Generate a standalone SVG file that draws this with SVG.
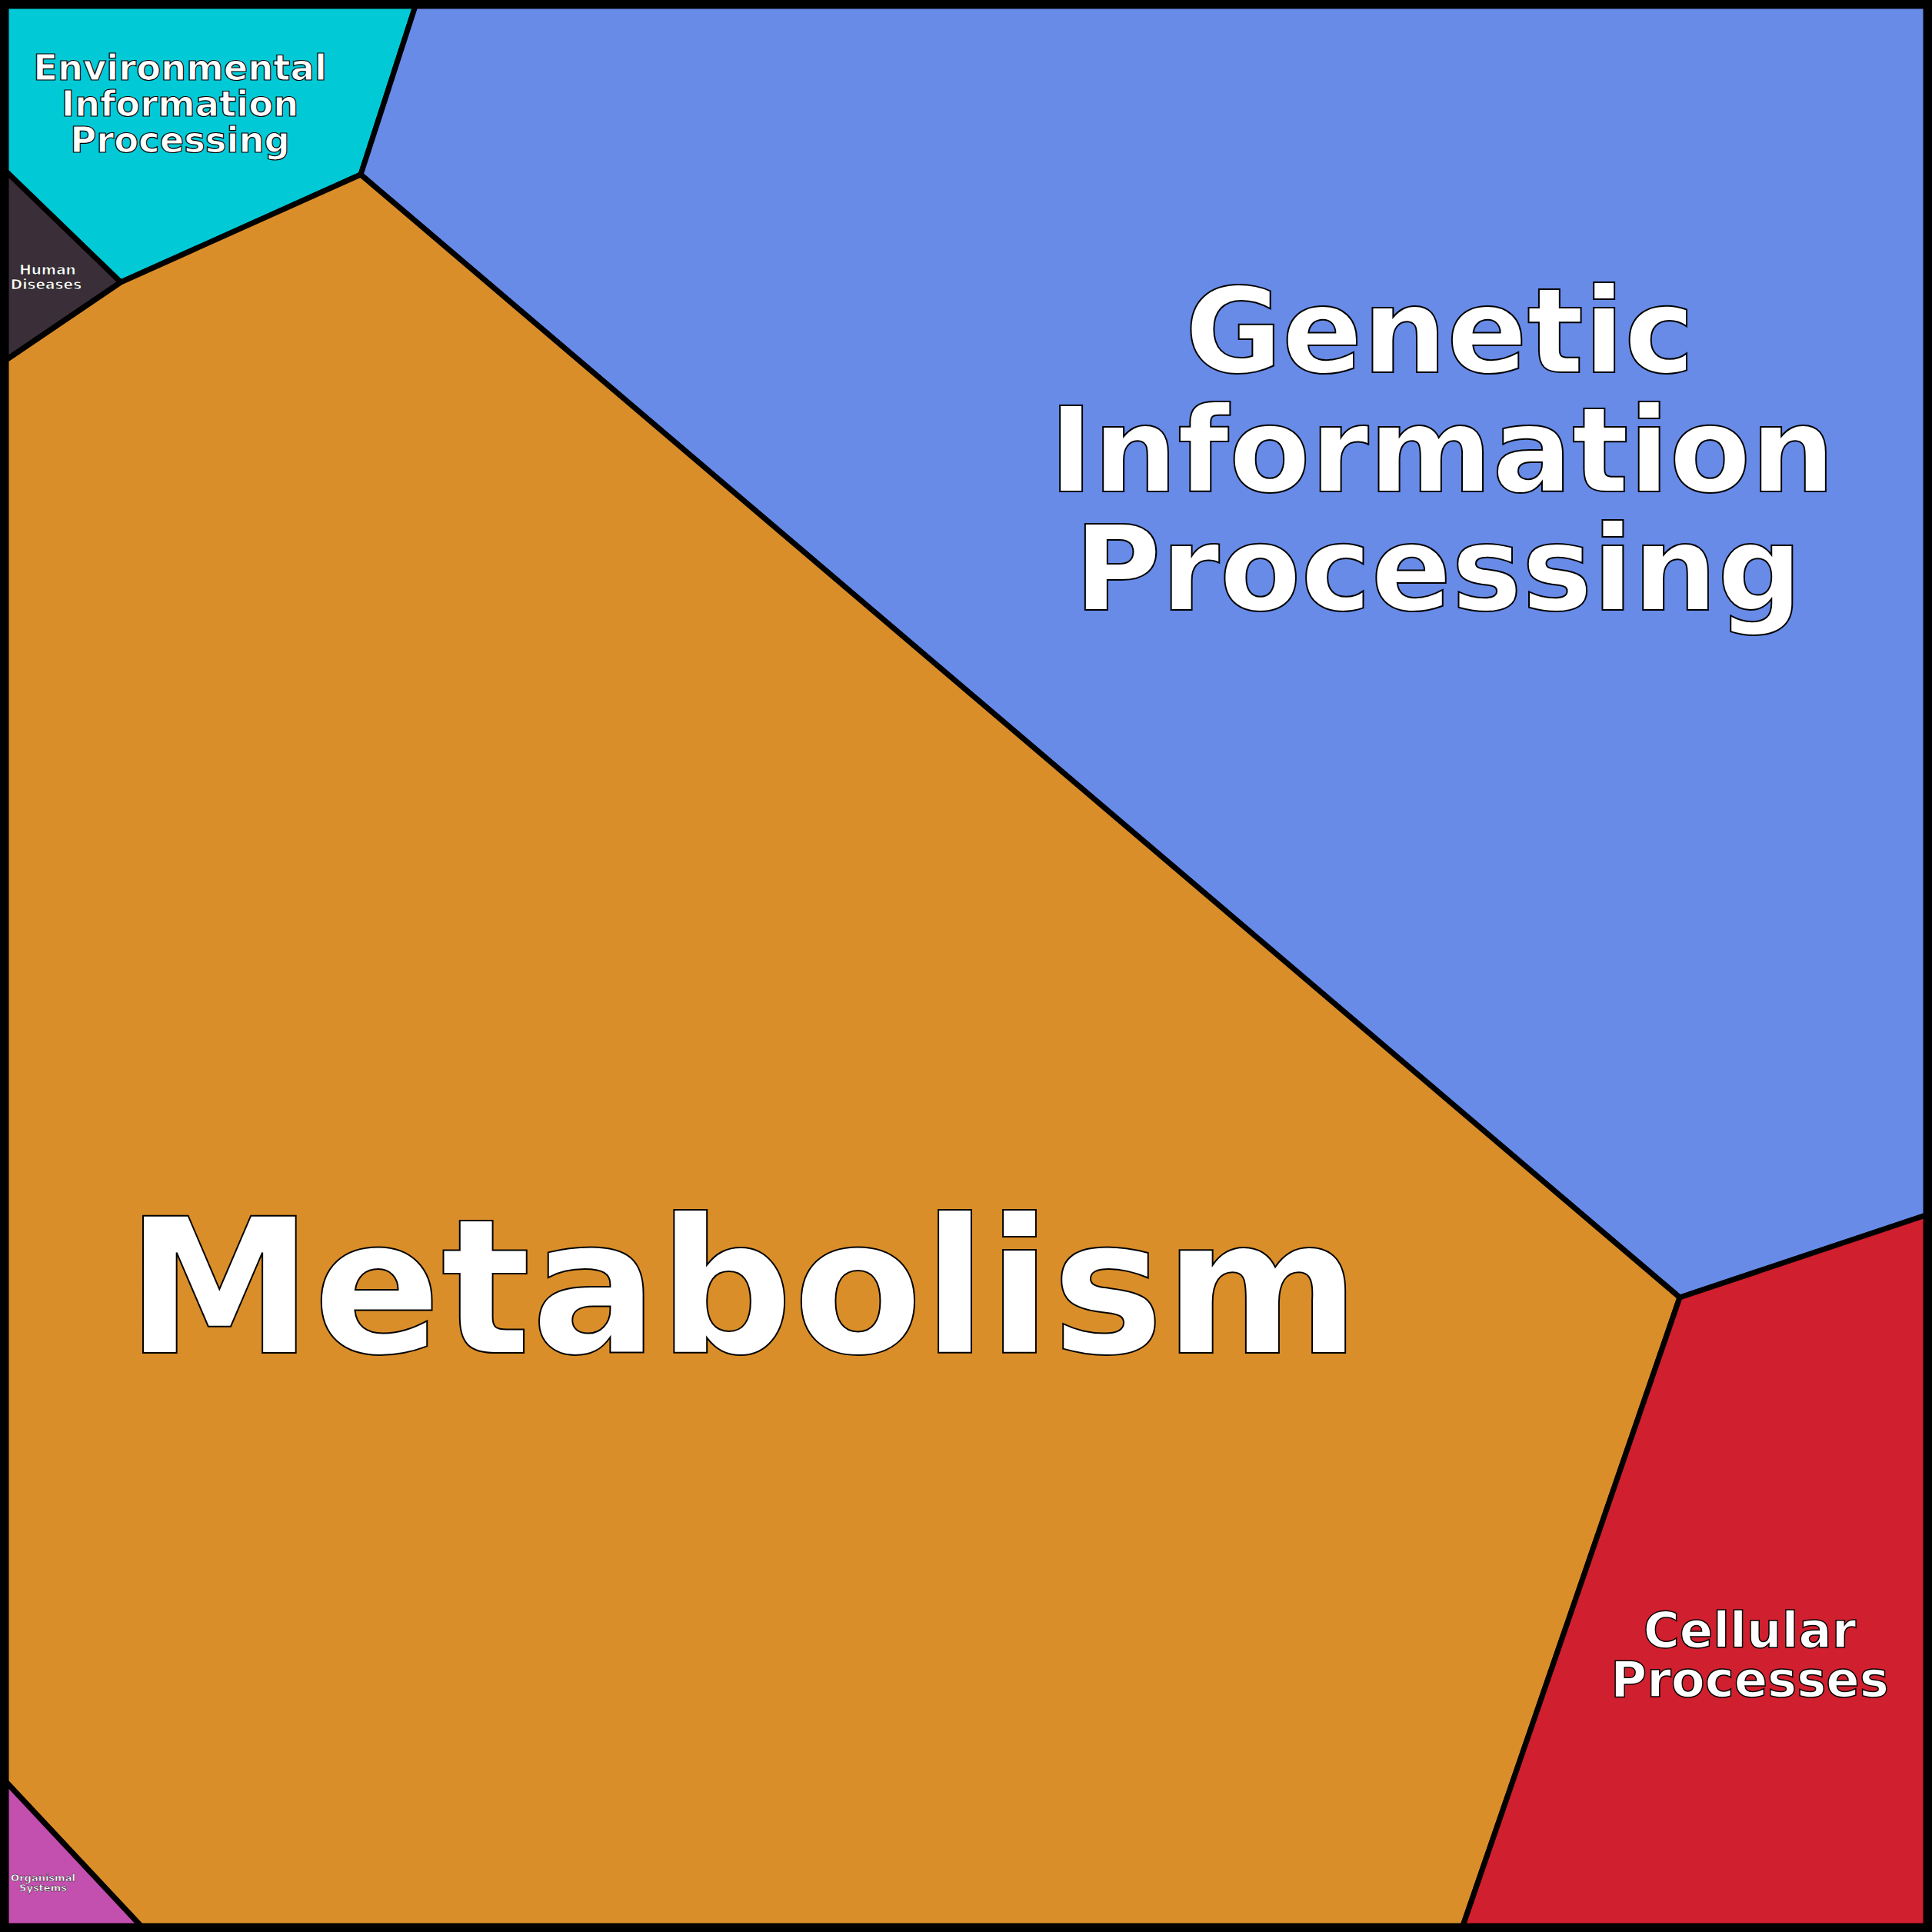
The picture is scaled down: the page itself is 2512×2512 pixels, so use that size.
<svg xmlns="http://www.w3.org/2000/svg" width="2512" height="2512" viewBox="0 0 2512 2512">
<style>
.c{stroke:#000;stroke-width:7;stroke-linejoin:round}
text{font-family:"DejaVu Sans",sans-serif;font-weight:bold;fill:#fff;stroke:#000;text-anchor:middle;paint-order:fill}
</style>
<g id="eip"><polygon class="c" fill="#02c9d6" points="8,8 540,8 469,227 157,367 8,223"/>
<text font-size="46.5" stroke-width="1.2"><tspan x="234" y="104">Environmental</tspan><tspan x="234" y="151">Information</tspan><tspan x="234" y="198">Processing</tspan></text></g>
<g id="hd"><polygon class="c" fill="#3a2e38" points="8,223 157,367 8,468"/>
<text font-size="18.5" stroke-width="0.6"><tspan x="62" y="357">Human</tspan><tspan x="60" y="376">Diseases</tspan></text></g>
<g id="gip"><polygon class="c" fill="#678be7" points="540,8 2504,8 2504,1580 2184,1687 469,227"/>
<text font-size="154" stroke-width="2"><tspan x="1872" y="484">Genetic</tspan><tspan x="1875" y="639">Information</tspan><tspan x="1870" y="793">Processing</tspan></text></g>
<g id="met"><polygon class="c" fill="#da8e29" points="8,468 157,367 469,227 2184,1687 1902,2504 183,2504 8,2317"/>
<text font-size="245" stroke-width="2"><tspan x="966" y="1759">Metabolism</tspan></text></g>
<g id="cp"><polygon class="c" fill="#d01f2e" points="2184,1687 2504,1580 2504,2504 1902,2504"/>
<text font-size="64" stroke-width="1.5"><tspan x="2275" y="2142">Cellular</tspan><tspan x="2275" y="2206">Processes</tspan></text></g>
<g id="os"><polygon class="c" fill="#c34faf" points="8,2317 183,2504 8,2504"/>
<text font-size="13" stroke-width="0.4"><tspan x="56" y="2446">Organismal</tspan><tspan x="56" y="2459">Systems</tspan></text></g>
<g id="connectors"></g>
<rect x="5" y="5" width="2502" height="2502" fill="none" stroke="#000" stroke-width="10"/>
</svg>
